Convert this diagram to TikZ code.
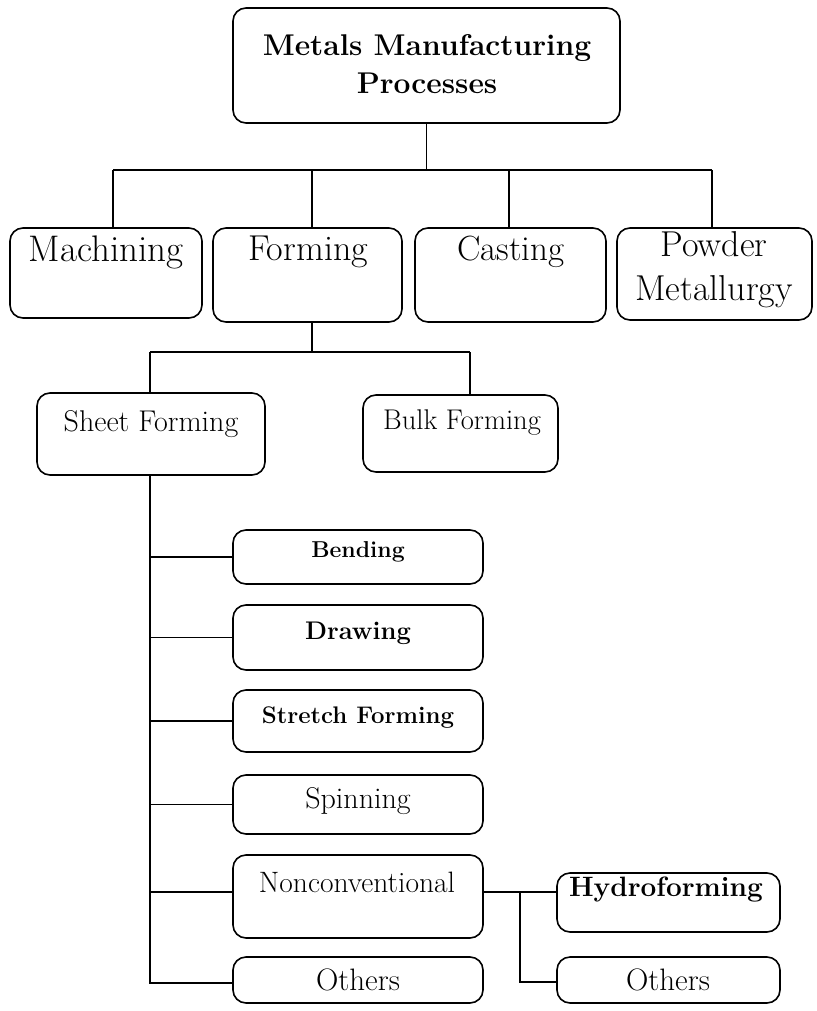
\documentclass[tikz,border=0pt]{standalone}
\usetikzlibrary{positioning}
\newcommand\myfs[2]{\fontsize{#1}{#2}\selectfont}
\begin{document}
\begin{tikzpicture}[x=1pt,y=-1pt,
  box/.style={draw=black,line width=1.6pt,rounded corners=13pt,inner sep=0pt,fill=white},
  conn/.style={draw=black,line width=1.5pt},
  lbl/.style={inner sep=0pt,align=center}]
\useasboundingbox (0,0) rectangle (816,1011);
% top
\node[box,minimum width=387pt,minimum height=115pt] (top) at (426.5,65.5) {};
\node[lbl,font=\bfseries\myfs{30}{38}] (topt) at (427,64) {Metals Manufacturing\\Processes};
% level 1
\node[box,minimum width=192pt,minimum height=90pt] (mach) at (106,273) {};
\node[lbl,font=\myfs{37}{40}] (macht) at (106,252) {Machining};
\node[box,minimum width=189pt,minimum height=94pt] (form) at (307.5,275) {};
\node[lbl,font=\myfs{36}{40}] (formt) at (308,252) {Forming};
\node[box,minimum width=191pt,minimum height=94pt] (cast) at (510.5,275) {};
\node[lbl,font=\myfs{35}{40}] (castt) at (511,252) {Casting};
\node[box,minimum width=195pt,minimum height=92pt] (powd) at (714.5,274) {};
\node[lbl,font=\myfs{36}{44}] (powdt) at (714,270) {Powder\\Metallurgy};
% bus 1
\coordinate (b1L) at (113,170);
\coordinate (b1R) at (712,170);
\draw[conn] (b1L) -- (b1R);
\draw[conn] (top.south) -- (top.south |- b1L);
\draw[conn] (b1L) -- (b1L |- mach.north);
\draw[conn] (form.north -| 312,0) -- (312,170);
\draw[conn] (cast.north -| 509,0) -- (509,170);
\draw[conn] (b1R) -- (b1R |- powd.north);
% level 2
\node[box,minimum width=228pt,minimum height=82pt] (sheet) at (151,434) {};
\node[lbl,font=\myfs{30}{32}] (sheett) at (151,424) {Sheet Forming};
\node[box,minimum width=195pt,minimum height=77pt] (bulk) at (460.5,433.5) {};
\node[lbl,font=\myfs{28.5}{32}] (bulkt) at (462,423) {Bulk Forming};
\coordinate (b2L) at (150,352);
\coordinate (b2R) at (470,352);
\draw[conn] (b2L) -- (b2R);
\draw[conn] (form.south -| 312,0) -- (312,352);
\draw[conn] (b2L) -- (b2L |- sheet.north);
\draw[conn] (b2R) -- (b2R |- bulk.north);
% sheet forming children
\node[box,minimum width=250pt,minimum height=54pt] (bend) at (358,557) {};
\node[lbl,font=\bfseries\myfs{23}{26}] (bendt) at (358,552) {Bending};
\node[box,minimum width=250pt,minimum height=65pt] (draw) at (358,637.5) {};
\node[lbl,font=\bfseries\myfs{25.5}{28}] (drawt) at (358,633) {Drawing};
\node[box,minimum width=250pt,minimum height=62pt] (stre) at (358,721) {};
\node[lbl,font=\bfseries\myfs{24}{28}] (stret) at (358,718) {Stretch Forming};
\node[box,minimum width=250pt,minimum height=59pt] (spin) at (358,804.5) {};
\node[lbl,font=\myfs{30}{32}] (spint) at (358,801) {Spinning};
\node[box,minimum width=250pt,minimum height=83pt] (nonc) at (358,896.5) {};
\node[lbl,font=\myfs{29.5}{32}] (nonct) at (357,882) {Nonconventional};
\node[box,minimum width=250pt,minimum height=46pt] (oth) at (358,980) {};
\node[lbl,font=\myfs{31}{32}] (otht) at (358,980) {Others};
\coordinate (sv) at (150,983);
\draw[conn] (sheet.south -| sv) -- (sv) -- (oth.west |- sv);
\draw[conn] (sv |- bend.west) -- (bend.west);
\draw[conn] (sv |- draw.west) -- (draw.west);
\draw[conn] (sv |- stre.west) -- (stre.west);
\draw[conn] (sv |- spin.west) -- (spin.west);
\draw[conn] (sv |- 0,892) -- (nonc.west |- 0,892);
% nonconventional children
\node[box,minimum width=223pt,minimum height=59pt] (hydro) at (668.5,902.5) {};
\node[lbl,font=\bfseries\myfs{28}{32}] (hydrot) at (666,890) {Hydroforming};
\node[box,minimum width=223pt,minimum height=46pt] (oth2) at (668.5,980) {};
\node[lbl,font=\myfs{31}{32}] (oth2t) at (668,980) {Others};
\coordinate (jn) at (520,892);
\coordinate (jo) at (520,982);
\draw[conn] (nonc.east |- jn) -- (hydro.west |- jn);
\draw[conn] (jn) -- (jo) -- (oth2.west |- jo);
\end{tikzpicture}
\end{document}
